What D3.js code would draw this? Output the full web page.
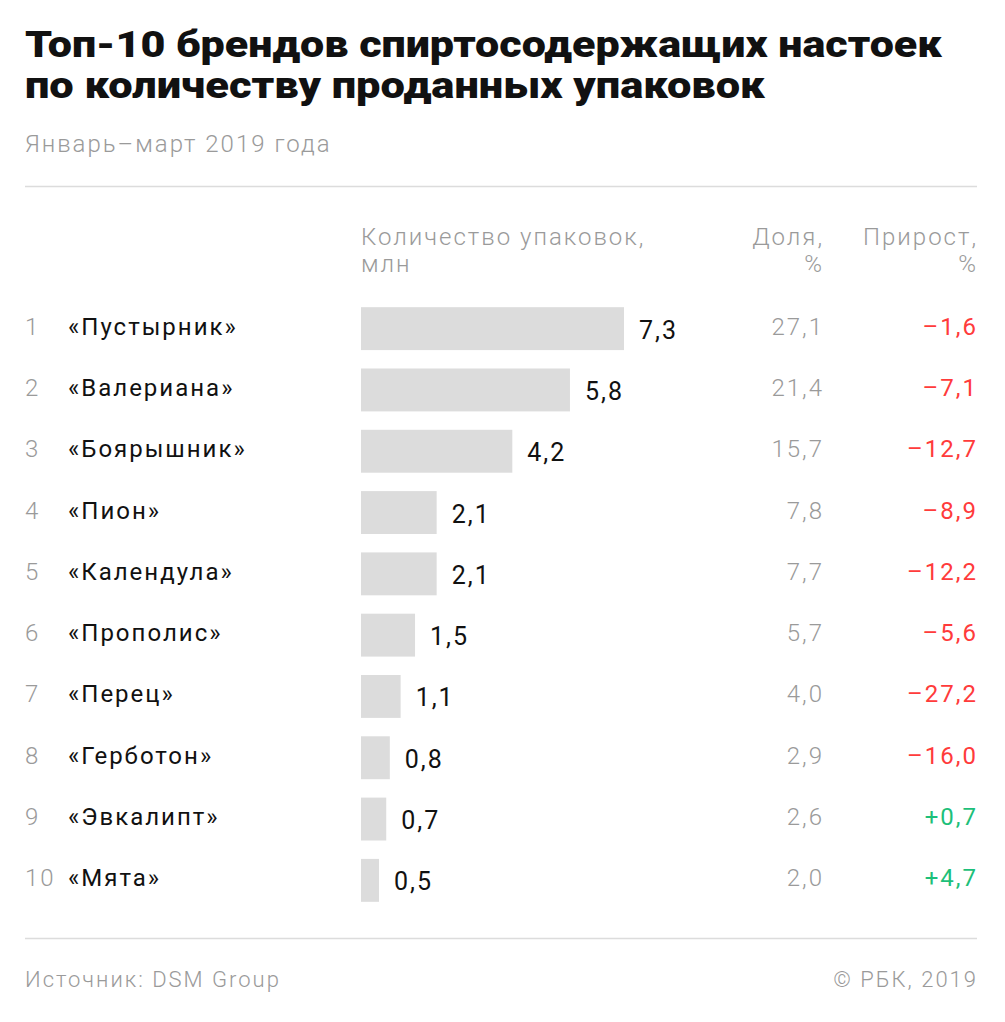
<!DOCTYPE html>
<html><head><meta charset="utf-8">
<script src="https://cdn.jsdelivr.net/npm/d3@7"></script>
<style>body{margin:0;background:#fff}svg{display:block}</style>
</head><body>
<script>
const ranks = [1,2,3,4,5,6,7,8,9,10];
const brands = ["«Пустырник»","«Валериана»","«Боярышник»","«Пион»","«Календула»","«Прополис»","«Перец»","«Герботон»","«Эвкалипт»","«Мята»"];
const packs = [7.3,5.8,4.2,2.1,2.1,1.5,1.1,0.8,0.7,0.5];
const share = [27.1,21.4,15.7,7.8,7.7,5.7,4.0,2.9,2.6,2.0];
const growth = [-1.6,-7.1,-12.7,-8.9,-12.2,-5.6,-27.2,-16.0,0.7,4.7];

const W=1005,H=1022;
const svg=d3.select("body").append("svg").attr("width",W).attr("height",H);
const font="Roboto, 'Noto Sans', sans-serif";
const fmt=v=>v.toFixed(1).replace(".",",");
const fmtG=v=>(v<0?"–":"+")+Math.abs(v).toFixed(1).replace(".",",");

// title
const title=["Топ-10 брендов спиртосодержащих настоек","по количеству проданных упаковок"];
const tw=[917,740];
title.forEach((t,i)=>{
  svg.append("text").attr("x",25).attr("y",57+i*41).text(t)
    .attr("font-family",font).attr("font-weight",900).attr("font-size",37)
    .attr("fill","#111").attr("textLength",tw[i]).attr("lengthAdjust","spacingAndGlyphs");
});
const txt=(sel)=>sel.attr("font-family",font).attr("font-size",24).attr("letter-spacing",2);
txt(svg.append("text").attr("x",25).attr("y",152).text("Январь–март 2019 года"))
  .attr("font-weight",300).attr("fill","#9a9a9a");

svg.append("line").attr("x1",25).attr("x2",977).attr("y1",186.5).attr("y2",186.5).attr("stroke","#dcdcdc").attr("stroke-width",1.5);
svg.append("line").attr("x1",25).attr("x2",977).attr("y1",938.5).attr("y2",938.5).attr("stroke","#dcdcdc").attr("stroke-width",1.5);

// headers (two lines each in one text element)
const hdr=(x,lines,anchor)=>{
  const t=txt(svg.append("text").attr("text-anchor",anchor)).attr("font-weight",300).attr("fill","#9a9a9a");
  lines.forEach((l,k)=>t.append("tspan").attr("x",x).attr("y",245+k*27).text(l));
};
hdr(361,["Количество упаковок,","млн"],"start");
hdr(824,["Доля,","%"],"end");
hdr(978,["Прирост,","%"],"end");

const x=d3.scaleLinear().domain([0,7.3]).range([361,624]);
const y=d3.scaleBand().domain(d3.range(10)).range([298,911]).paddingInner(0.3).paddingOuter(0.15);

const rows=svg.append("g").selectAll("g").data(d3.range(10)).join("g");
rows.append("rect").attr("x",x(0)).attr("y",i=>y(i)).attr("height",y.bandwidth())
  .attr("width",i=>x(packs[i])-x(0)).attr("fill","#dcdcdc");
txt(rows.append("text").attr("x",25).attr("y",i=>y(i)+y.bandwidth()/2+6).text(i=>ranks[i]))
  .attr("font-weight",300).attr("fill","#9a9a9a");
txt(rows.append("text").attr("x",68).attr("y",i=>y(i)+y.bandwidth()/2+6).text(i=>brands[i]))
  .attr("font-weight",400).attr("fill","#111");
txt(rows.append("text").attr("x",i=>x(packs[i])+15).attr("y",i=>y(i)+y.bandwidth()/2+10).text(i=>fmt(packs[i])))
  .attr("font-weight",400).attr("font-size",25).attr("fill","#111");
txt(rows.append("text").attr("x",824).attr("y",i=>y(i)+y.bandwidth()/2+6).attr("text-anchor","end").text(i=>fmt(share[i])))
  .attr("font-weight",300).attr("fill","#9a9a9a");
txt(rows.append("text").attr("x",978).attr("y",i=>y(i)+y.bandwidth()/2+6).attr("text-anchor","end").text(i=>fmtG(growth[i])))
  .attr("font-weight",400).attr("fill",i=>growth[i]<0?"#ff3b3b":"#1dbf7a");

txt(svg.append("text").attr("x",25).attr("y",987).text("Источник: DSM Group"))
  .attr("font-weight",300).attr("font-size",22).attr("fill","#9a9a9a");
txt(svg.append("text").attr("x",978).attr("y",987).attr("text-anchor","end").text("© РБК, 2019"))
  .attr("font-weight",300).attr("font-size",22).attr("fill","#9a9a9a");
</script>
</body></html>
